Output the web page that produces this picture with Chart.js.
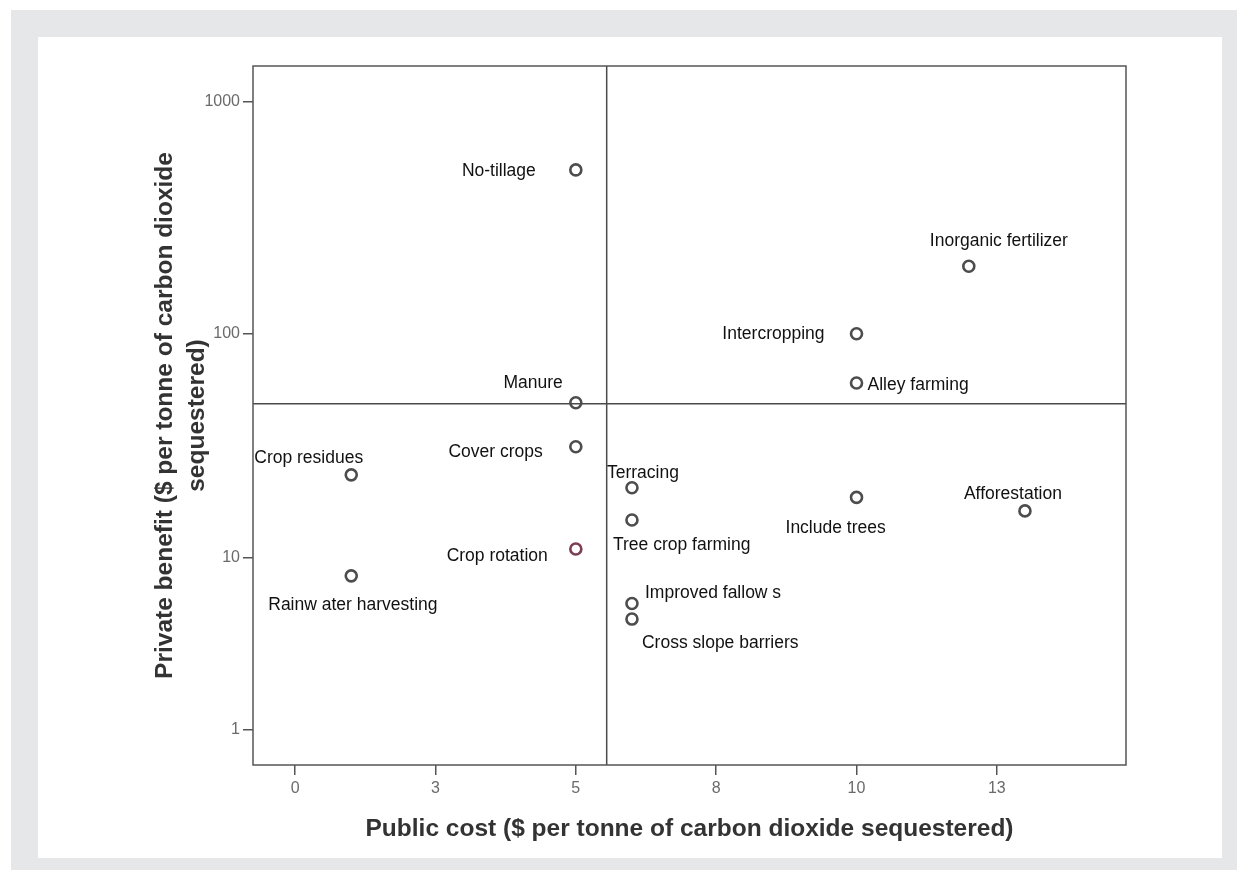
<!DOCTYPE html>
<html>
<head>
<meta charset="utf-8">
<title>Public cost vs private benefit</title>
<script src="https://cdn.jsdelivr.net/npm/chart.js@4.4.1/dist/chart.umd.min.js"></script>
<style>
  body { margin: 0; background: #fff; }
  .frame { position: absolute; left: 11px; top: 10px; width: 1226px; height: 860px; background: #e6e7e9; }
  .panel { position: absolute; left: 38px; top: 37px; width: 1184px; height: 821px; background: #fff; }
  #chart { position: absolute; left: 0; top: 0; }
</style>
</head>
<body>
<div class="frame"></div>
<div class="panel"></div>
<canvas id="chart" width="1248" height="877"></canvas>
<script>
// practices, public cost and private benefit ($ per tonne CO2)
const practices = ['No-tillage', 'Inorganic fertilizer', 'Intercropping', 'Alley farming', 'Manure',
  'Cover crops', 'Crop residues', 'Rainw ater harvesting', 'Crop rotation', 'Terracing',
  'Tree crop farming', 'Improved fallow s', 'Cross slope barriers', 'Include trees', 'Afforestation'];
const publicCost = [5, 12, 10, 10, 5, 5, 1, 1, 5, 6, 6, 6, 6, 10, 13];
const privateBenefit = [510, 196, 100, 61, 50, 32, 24, 8.2, 11, 21, 15, 6, 5, 19, 16.5];

// reference lines
const costLine = 5.55;
const benefitLine = 49.5;

const xTickValues = [0, 2.5, 5, 7.5, 10, 12.5];
const xTickLabels = ['0', '3', '5', '8', '10', '13'];
const yTickValues = [1, 10, 100, 1000];
const yTickLabels = ['1', '10', '100', '1000'];

// label placement next to each marker: [dx, dy, align]
const labelPlacement = [
  [-40, 1, 'right'], [-39, -25, 'left'], [-32, 0, 'right'], [11, 2, 'left'], [-13, -20, 'right'],
  [-33, 5, 'right'], [-97, -17, 'left'], [-83, 29, 'left'], [-28, 7, 'right'], [-25, -15, 'left'],
  [-19, 25, 'left'], [13, -10, 'left'], [10, 24, 'left'], [-71, 31, 'left'], [-61, -17, 'left']
];

// the benefit axis is a safe log: log10(v + 1)
const safeLog = v => Math.log10(v + 1);

const FONT = '"Liberation Sans", Arial, sans-serif';
const axisColor = '#555';

const points = publicCost.map((c, i) => ({ x: c, y: safeLog(privateBenefit[i]) }));
const markerColors = practices.map(p => p === 'Crop rotation' ? '#7d3d52' : '#4d4d4d');

const framePlugin = {
  id: 'frameAndRefs',
  beforeDatasetsDraw(chart) {
    const { ctx, chartArea: a, scales: { x, y } } = chart;
    ctx.save();
    ctx.strokeStyle = '#4a4a4a';
    ctx.lineWidth = 1.5;
    const vx = x.getPixelForValue(costLine);
    const hy = y.getPixelForValue(safeLog(benefitLine));
    ctx.beginPath();
    ctx.moveTo(vx, a.top); ctx.lineTo(vx, a.bottom);
    ctx.moveTo(a.left, hy); ctx.lineTo(a.right, hy);
    ctx.stroke();
    ctx.strokeStyle = axisColor;
    ctx.strokeRect(a.left, a.top, a.right - a.left, a.bottom - a.top);
    ctx.restore();
  },
  afterDatasetsDraw(chart) {
    const { ctx } = chart;
    const meta = chart.getDatasetMeta(0);
    ctx.save();
    ctx.font = '17.5px ' + FONT;
    ctx.fillStyle = '#111';
    ctx.textBaseline = 'middle';
    meta.data.forEach((pt, i) => {
      const [dx, dy, align] = labelPlacement[i];
      ctx.textAlign = align;
      ctx.fillText(practices[i], pt.x + dx, pt.y + dy);
    });
    ctx.restore();
  }
};

new Chart(document.getElementById('chart'), {
  type: 'scatter',
  data: {
    datasets: [{
      data: points,
      pointRadius: 5.5,
      pointBorderWidth: 2.6,
      pointBackgroundColor: 'rgba(0,0,0,0)',
      pointBorderColor: markerColors
    }]
  },
  options: {
    responsive: false,
    animation: false,
    layout: { padding: { left: 0, top: 66, right: 122, bottom: 0 } },
    plugins: { legend: { display: false }, tooltip: { enabled: false } },
    scales: {
      x: {
        type: 'linear',
        min: -0.75,
        max: 14.8,
        afterBuildTicks: s => { s.ticks = xTickValues.map(v => ({ value: v })); },
        afterFit: s => { s.height = 112; },
        grid: { drawOnChartArea: false, tickLength: 10, color: axisColor, lineWidth: 1.5 },
        border: { display: false },
        ticks: {
          padding: 4, color: '#6a6a6a', font: { family: FONT, size: 16 },
          callback: (v, i) => xTickLabels[i]
        },
        title: {
          display: true,
          text: 'Public cost ($ per tonne of carbon dioxide sequestered)',
          color: '#333',
          font: { family: FONT, size: 24.5, weight: 'bold', lineHeight: 1.2 },
          padding: { top: 0, bottom: 33 }
        }
      },
      y: {
        type: 'linear',
        min: 0.151,
        max: 3.155,
        afterBuildTicks: s => { s.ticks = yTickValues.map(v => ({ value: safeLog(v) })); },
        afterFit: s => { s.width = 253; },
        grid: { drawOnChartArea: false, tickLength: 10, color: axisColor, lineWidth: 1.5 },
        border: { display: false },
        ticks: {
          padding: 3, color: '#6a6a6a', font: { family: FONT, size: 16 },
          callback: (v, i) => yTickLabels[i]
        },
        title: {
          display: true,
          text: ['Private benefit ($ per tonne of carbon dioxide', 'sequestered)'],
          color: '#333',
          font: { family: FONT, size: 24.5, weight: 'bold', lineHeight: 1.3 },
          padding: { top: 149, bottom: 0 }
        }
      }
    }
  },
  plugins: [framePlugin]
});
</script>
</body>
</html>
